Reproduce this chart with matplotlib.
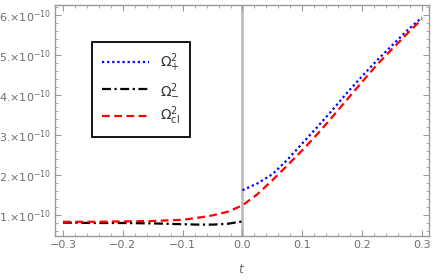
import matplotlib
matplotlib.use("Agg")
import matplotlib.pyplot as plt
from matplotlib.lines import Line2D
from matplotlib.ticker import FixedLocator, MultipleLocator
import numpy as np

# values in units of 1e-10
t_cl = [-0.3, -0.25, -0.2, -0.15, -0.1, -0.075, -0.05, -0.025, 0.0, 0.025,
        0.05, 0.075, 0.1, 0.125, 0.15, 0.175, 0.2, 0.225, 0.25, 0.275, 0.3]
omega_cl = [0.83, 0.83, 0.84, 0.85, 0.88, 0.93, 0.99, 1.08, 1.24, 1.52,
            1.87, 2.24, 2.62, 3.02, 3.45, 3.89, 4.33, 4.76, 5.15, 5.53, 5.9]

t_plus = [0.0, 0.025, 0.05, 0.075, 0.1, 0.125, 0.15, 0.175, 0.2, 0.225,
          0.25, 0.275, 0.3]
omega_plus = [1.62, 1.79, 2.02, 2.38, 2.79, 3.2, 3.62, 4.06, 4.47, 4.87,
              5.24, 5.61, 5.94]

t_minus = [-0.3, -0.25, -0.2, -0.15, -0.1, -0.075, -0.05, -0.025, 0.0]
omega_minus = [0.81, 0.8, 0.8, 0.79, 0.77, 0.76, 0.76, 0.78, 0.84]

x_ticks = [-0.3, -0.2, -0.1, 0.0, 0.1, 0.2, 0.3]
y_ticks = [1, 2, 3, 4, 5, 6]
y_labels = ["%d.\u00d710$^{-10}$" % v for v in y_ticks]
labels = [r"$\Omega_{+}^{2}$", r"$\Omega_{-}^{2}$", r"$\Omega_{\rm cl}^{2}$"]

grey = "#9a9a9a"
label_grey = "#6e6e6e"

fig = plt.figure(figsize=(4.36, 2.8), dpi=100)
ax = fig.add_axes([55 / 436, 44 / 280, 374 / 436, 231 / 280])

ax.axvline(0, color="#bdbdbd", lw=2.0, zorder=1)

ax.plot(t_plus, np.array(omega_plus) * 1e-10, color="blue", ls=(0, (1, 1.3)),
        lw=1.6, zorder=3)
ax.plot(t_minus, np.array(omega_minus) * 1e-10, color="black",
        ls=(0, (4, 1.6, 1, 1.6)), lw=1.6, zorder=3)
ax.plot(t_cl, np.array(omega_cl) * 1e-10, color="red", ls=(0, (3.5, 2)),
        lw=1.6, zorder=3)

ax.set_xlim(-0.3133, 0.3117)
ax.set_ylim(0.475e-10, 6.25e-10)

ax.xaxis.set_major_locator(FixedLocator(x_ticks))
ax.xaxis.set_minor_locator(MultipleLocator(0.02))
ax.set_xticklabels(["%.1f" % v if v >= 0 else "\u2212%.1f" % -v for v in x_ticks])
ax.yaxis.set_major_locator(FixedLocator([v * 1e-10 for v in y_ticks]))
ax.yaxis.set_minor_locator(MultipleLocator(0.2e-10))
ax.set_yticklabels(y_labels)

for s in ax.spines.values():
    s.set_color(grey)
    s.set_linewidth(1.0)
ax.tick_params(which="both", direction="in", top=True, right=True,
               color=grey, labelcolor=label_grey, labelsize=8, pad=3)
ax.tick_params(which="major", length=4.5, width=0.8)
ax.tick_params(which="minor", length=2.5, width=0.6)

ax.set_xlabel("$t$", color=label_grey, fontsize=9, labelpad=9)

handles = [
    Line2D([], [], color="blue", ls=(0, (1, 1.3)), lw=1.6),
    Line2D([], [], color="black", ls=(0, (4, 1.6, 1, 1.6)), lw=1.6),
    Line2D([], [], color="red", ls=(0, (3.5, 2)), lw=1.6),
]
leg = ax.legend(handles, labels, loc="upper left", bbox_to_anchor=(0.099, 0.84),
                borderaxespad=0, fontsize=10, handlelength=3.4, labelspacing=0.5,
                handletextpad=0.8, borderpad=0.7, fancybox=False,
                framealpha=1.0, edgecolor="black")
leg.get_frame().set_linewidth(1.3)
for txt in leg.get_texts():
    txt.set_color("#333333")

fig.savefig("out.png", dpi=100)
